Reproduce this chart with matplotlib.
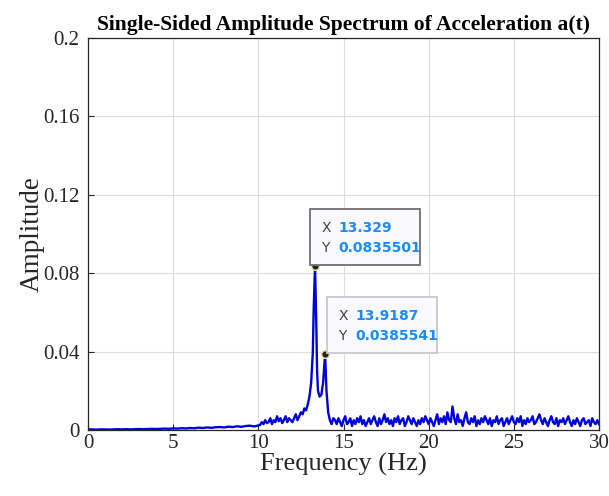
import numpy as np
import matplotlib.pyplot as plt

# spectrum amplitudes (x 1e-3)
amp_low = [0.3, 0.3, 0.2, 0.3, 0.3, 0.2, 0.3, 0.4, 0.3, 0.4, 0.3, 0.4, 0.5, 0.4, 0.5, 0.6,
           0.5, 0.6, 0.7, 0.6, 0.8, 0.7, 0.9, 0.8, 1.0, 0.9, 1.2, 1.0, 1.3, 1.1, 1.4, 1.5,
           1.3, 1.7, 1.5, 1.9, 1.6, 2.0, 2.2, 1.8, 2.3]                     # 0 .. 10 Hz
amp_mid = [3, 2.5, 4, 3, 5, 3.5, 4, 6, 3, 5, 4, 7, 4.5, 6, 3.5, 5, 7, 4, 6, 5, 4, 6, 8,
           5, 7, 9]                                                             # 10 .. 12.5 Hz
freq_peak = [12.6, 12.7, 12.8, 12.9, 13.0, 13.1, 13.2, 13.25, 13.329, 13.4, 13.45, 13.5,
             13.6, 13.7, 13.8, 13.9187, 14.0, 14.1, 14.2, 14.3, 14.4]
amp_peak = [8, 11, 10, 13, 17, 24, 40, 62, 83.5501, 55, 30, 20, 17, 18, 24, 38.5541, 20,
            9, 5, 3, 6]
amp_high1 = [5, 3, 6, 4, 2, 5, 7, 3, 4, 6, 2, 5, 3, 6, 4, 7, 3, 5, 2, 4, 6, 3, 5, 7, 4, 2,
             6, 3, 5, 8, 4, 6, 3, 5, 2, 6, 4, 7, 3, 5, 6, 2, 4, 7, 5, 3, 6, 4, 2, 5, 3, 6,
             4, 7, 5, 3]                                                        # 14.5 .. 20 Hz
amp_high2 = [6, 4, 2, 5, 8, 3, 6, 4, 7, 3, 9, 5, 4, 12, 6, 3, 8, 4, 5, 2, 6, 9, 4, 3, 6,
             4, 7, 2, 5, 3, 6, 4, 7, 5, 3, 6, 2, 5, 4, 7, 3, 5, 6, 2, 4, 6, 3, 5, 7, 4]  # 20.1 .. 25
amp_high3 = [3, 6, 4, 7, 2, 5, 3, 6, 4, 5, 7, 3, 4, 6, 8, 5, 3, 6, 4, 2, 5, 7, 4, 3, 6,
             2, 5, 4, 6, 3, 5, 7, 4, 2, 5, 3, 6, 4, 2, 5, 6, 3, 4, 5, 2, 6, 4, 3, 5, 3]  # 25.1 .. 30

tips = [(13.329, 0.0835501), (13.9187, 0.0385541)]

f = np.concatenate([np.linspace(0, 10, len(amp_low)),
                    np.linspace(10.0, 12.5, len(amp_mid))[1:],
                    freq_peak,
                    np.linspace(14.5, 20.0, len(amp_high1)),
                    np.linspace(20.1, 25.0, len(amp_high2)),
                    np.linspace(25.1, 30.0, len(amp_high3))])
A = np.concatenate([amp_low, amp_mid[1:], amp_peak, amp_high1, amp_high2, amp_high3]) * 1e-3

plt.rcParams['font.family'] = ['Liberation Serif', 'DejaVu Serif']

fig = plt.figure(figsize=(6.09, 4.96), dpi=100)
ax = fig.add_axes([0.1445, 0.1331, 0.8391, 0.7903])

ax.plot(f, A, color='#0000dd', lw=1.7)
ax.set_xlim(0, 30)
ax.set_ylim(0, 0.2)
ax.set_xticks([0, 5, 10, 15, 20, 25, 30])
ax.set_yticks([0, 0.04, 0.08, 0.12, 0.16, 0.2])
ax.set_yticklabels(['0', '0.04', '0.08', '0.12', '0.16', '0.2'])
ax.grid(True, color='#dcdcdc', lw=0.8)
ax.set_axisbelow(True)
ax.tick_params(direction='in', labelsize=15, colors='#262626', length=4)
ax.tick_params(axis='x', pad=3)
ax.tick_params(axis='y', pad=6)
for s in ax.spines.values():
    s.set_color('#262626')
    s.set_linewidth(0.9)

ax.set_title('Single-Sided Amplitude Spectrum of Acceleration a(t)', fontsize=15.5,
             fontweight='bold', pad=6)
ax.set_xlabel('Frequency (Hz)', fontsize=19, color='#262626', labelpad=0)
ax.set_ylabel('Amplitude', fontsize=19.5, color='#262626', labelpad=-1)

# data tips
boxes = [((310, 209), '#707070'), ((327, 297), '#c8c8c8')]
for (tx, ty), ((bx, by), ec) in zip(tips, boxes):
    ax.plot(tx, ty, 'o', ms=5.5, mfc='#222222', mec='#f0e0a0', mew=1, zorder=5)
    x0 = bx / 609
    y0 = 1 - by / 496
    fig.patches.append(plt.Rectangle((x0, y0 - 0.112), 0.181, 0.112, transform=fig.transFigure,
                                     fc='#fafafe', ec=ec, lw=1.3, zorder=3))
    fig.text(x0 + 0.019, y0 - 0.047, 'X', fontsize=10, color='#404040',
             family='DejaVu Sans', va='baseline', zorder=4)
    fig.text(x0 + 0.019, y0 - 0.087, 'Y', fontsize=10, color='#404040',
             family='DejaVu Sans', va='baseline', zorder=4)
    fig.text(x0 + 0.047, y0 - 0.047, '%g' % tx, fontsize=10, color='#1a8cff',
             family='DejaVu Sans', fontweight='bold', va='baseline', zorder=4)
    fig.text(x0 + 0.047, y0 - 0.087, '%g' % ty, fontsize=10, color='#1a8cff',
             family='DejaVu Sans', fontweight='bold', va='baseline', zorder=4)

fig.savefig('out.png', dpi=100)
